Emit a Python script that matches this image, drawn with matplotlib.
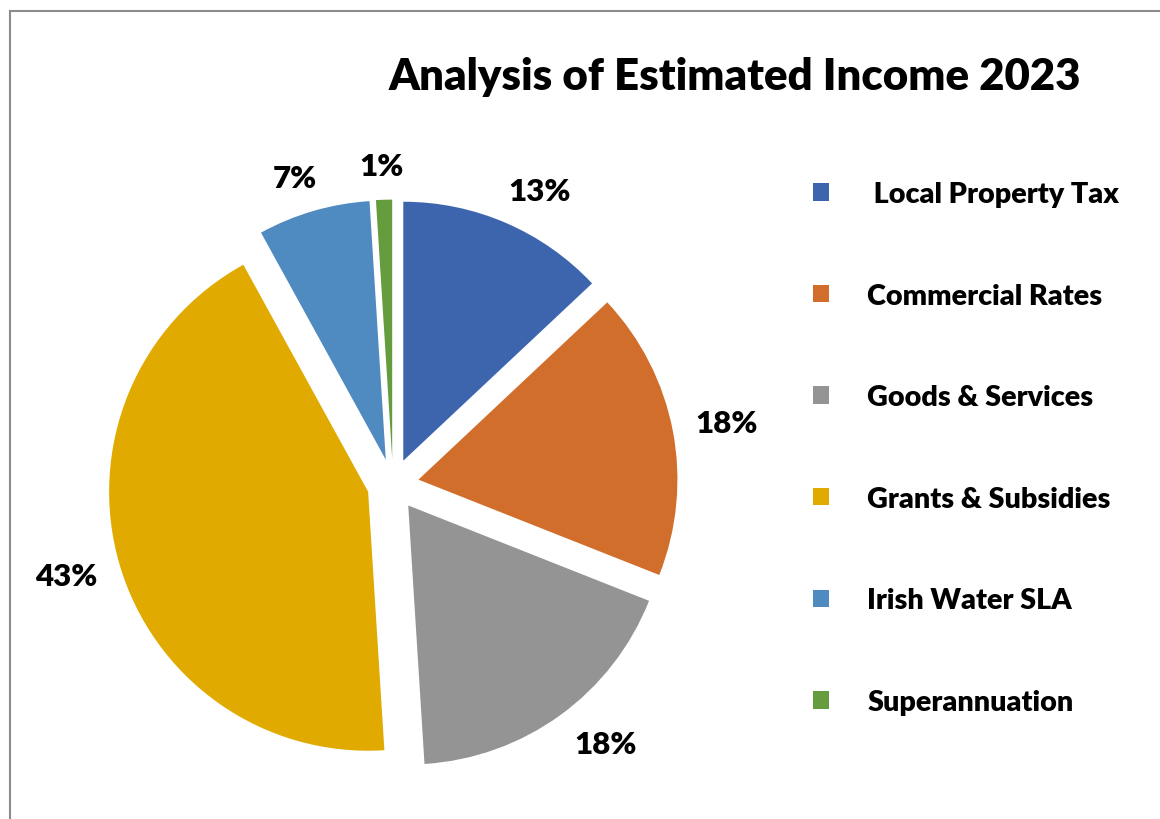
import numpy as np
import matplotlib.pyplot as plt
from matplotlib.lines import Line2D

# chart data
categories = [" Local Property Tax", "Commercial Rates", "Goods & Services",
              "Grants & Subsidies", "Irish Water SLA", "Superannuation"]
shares = [13, 18, 18, 43, 7, 1]
colors = ["#3D65AE", "#D26E2B", "#949494", "#E0AA00", "#4F8BC0", "#659C3E"]
title = "Analysis of Estimated Income 2023"

plt.rcParams['font.family'] = ['Lato', 'DejaVu Sans']
WEIGHT = 'heavy'

W, H = 1160, 820
fig = plt.figure(figsize=(W / 100, H / 100), dpi=100)

# pie centre and radius in pixels
cx, cy, r = 393, 485.5, 259
half = 1.2 * r
ax = fig.add_axes([(cx - half) / W, (H - cy - half) / H, 2 * half / W, 2 * half / H])

explode = 0.1
wedges, _, autotexts = ax.pie(
    shares, colors=colors, startangle=90, counterclock=False,
    explode=[explode] * len(shares), autopct='%1.0f%%', pctdistance=1.2,
    wedgeprops=dict(linewidth=0))
for t in autotexts:
    t.set_fontsize(22.5)
    t.set_fontweight(WEIGHT)
    t.set_color('black')
ax.set_xlim(-1.2, 1.2)
ax.set_ylim(-1.2, 1.2)
ax.set_aspect('equal')
ax.axis('off')

# "outside end" labels: the label box's near side sits on the slice's mid ray
fig.canvas.draw()
renderer = fig.canvas.get_renderer()
px = 2.4 / (2 * half)  # data units per pixel
gap = 23 * px
for w, t in zip(wedges, autotexts):
    ang = np.deg2rad((w.theta1 + w.theta2) / 2)
    c, s = np.cos(ang), np.sin(ang)
    bb = t.get_window_extent(renderer)
    hw, hh = bb.width / 2 * px, bb.height / 2 * 0.75 * px
    d = w.r + explode + gap
    x = d * c + hw * np.clip(2 * c, -1, 1)
    y = d * s + hh * np.clip(2 * s, -1, 1)
    t.set_position((x, y))
    t.set_ha('center')
    t.set_va('center')

fig.text(735 / W, 1 - 77 / H, title, ha='center', va='center',
         fontsize=31.5, fontweight=WEIGHT)

fig.legend(wedges, categories, loc='upper left',
           bbox_to_anchor=(813 / W, 1 - 182 / H), frameon=False,
           prop=dict(size=20.7, weight=WEIGHT),
           handlelength=0.56, handleheight=0.56, handletextpad=1.32,
           labelspacing=2.63, borderpad=0, borderaxespad=0)

# chart border (left and top edges visible)
fig.add_artist(Line2D([10 / W, 10 / W], [0, 1 - 12 / H], color='#8C8C8C', lw=1.5))
fig.add_artist(Line2D([10 / W, 1], [1 - 12 / H, 1 - 12 / H], color='#8C8C8C', lw=1.5))

fig.savefig('out.png', dpi=100, facecolor='white')
